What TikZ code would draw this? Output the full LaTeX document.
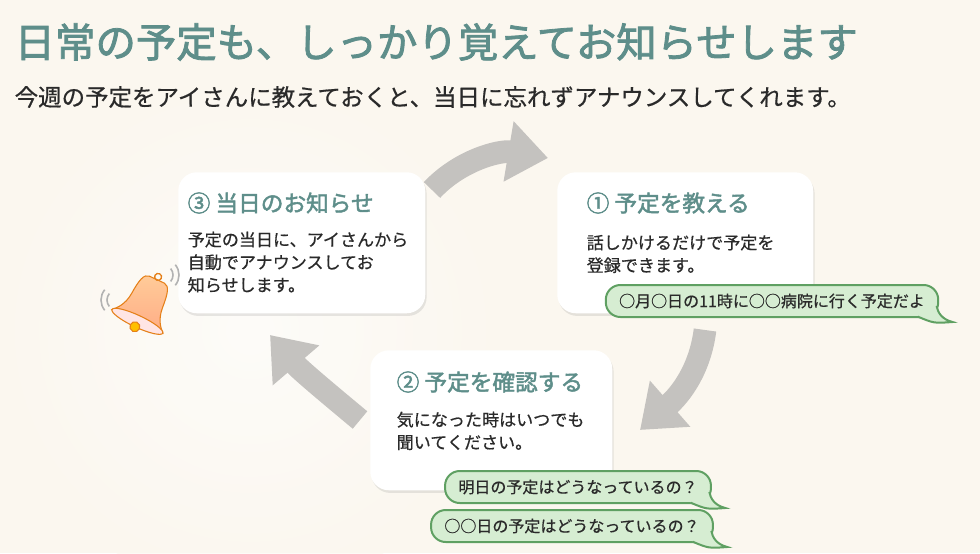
\documentclass[tikz,border=0pt]{standalone}
\usepackage{fontspec}
\setmainfont{Noto Sans CJK JP}
\newfontfamily\jpb{Noto Sans CJK JP}[FakeBold=2]
\newfontfamily\jpm{Noto Sans CJK JP}[FakeBold=0.6]
\usetikzlibrary{arrows.meta,shadows}
\definecolor{teal}{HTML}{5E8E8A}
\definecolor{bubfill}{HTML}{D6EDD2}
\definecolor{bubdraw}{HTML}{5FA062}
\definecolor{arr}{HTML}{C4C2BF}
\definecolor{bg}{HTML}{FBF7EF}
\definecolor{txt}{HTML}{2A2A2A}
\tikzset{
  card/.style={draw=none,fill=white,rounded corners=14pt,drop shadow={shadow xshift=1pt,shadow yshift=-2pt,opacity=.18}},
  head/.style={anchor=west,text=teal,font=\jpb\fontsize{17}{20}\selectfont},
  body/.style={anchor=north west,align=left,text=txt,font=\jpm\fontsize{12.8}{17}\selectfont},
  bub/.style={draw=bubdraw,line width=1.5pt,fill=bubfill,rounded corners=11pt,inner xsep=10pt,minimum height=24pt,text=txt,font=\jpm\fontsize{12}{14}\selectfont},
  bigarrow/.style={draw=arr,line width=17pt,-{Triangle[length=30pt,width=44pt]}},
}
\begin{document}
\begin{tikzpicture}[x=0.75pt,y=-0.75pt]
\useasboundingbox (0,0) rectangle (980,553);
\fill[bg] (0,0) rectangle (980,553);
\shade[inner color=white,outer color=bg,opacity=.6] (250,330) circle (260);
% title
\node[anchor=west,text=teal,font=\jpb\fontsize{30.3}{34}\selectfont] (title) at (10,42) {日常の予定も、しっかり覚えてお知らせします};
\node[anchor=west,text=txt,font=\jpm\fontsize{17.6}{20}\selectfont] (sub) at (10,97) {今週の予定をアイさんに教えておくと、当日に忘れずアナウンスしてくれます。};
% arrows
\coordinate (a1s) at (432,190);
\coordinate (a1e) at (548,158);
\draw[bigarrow] (a1s) .. controls (460,160) and (500,150) .. (a1e);
\coordinate (a2s) at (705,330);
\coordinate (a2e) at (640,430);
\draw[bigarrow] (a2s) .. controls (700,370) and (680,395) .. (a2e);
\coordinate (a3s) at (360,420);
\coordinate (a3e) at (270,335);
\draw[bigarrow] (a3s) .. controls (330,395) and (300,370) .. (a3e);
% cards
\node[card,minimum width=256*0.75pt,minimum height=141*0.75pt,anchor=north west] (c1) at (557,172) {};
\node[card,minimum width=247*0.75pt,minimum height=141*0.75pt,anchor=north west] (c3) at (178,172) {};
\node[card,minimum width=242*0.75pt,minimum height=140*0.75pt,anchor=north west] (c2) at (370,350) {};
\node[head] (h1) at (582,203) {① 予定を教える};
\node[body] (b1) at (582,230) {話しかけるだけで予定を\\登録できます。};
\node[head] (h3) at (183,203) {③ 当日のお知らせ};
\node[body] (b3) at (183,227) {予定の当日に、アイさんから\\自動でアナウンスしてお\\知らせします。};
\node[head] (h2) at (392,382) {② 予定を確認する};
\node[body] (b2) at (392,407) {気になった時はいつでも\\聞いてください。};
% bubbles
\node[bub] (s1) at (772,301) {○月○日の11時に○○病院に行く予定だよ};
\node[bub] (s2) at (578,487) {明日の予定はどうなっているの？};
\node[bub] (s3) at (572,526) {○○日の予定はどうなっているの？};
\foreach \s in {s1,s2,s3}{
  \draw[bubdraw,line width=1.5pt,fill=bubfill] ([xshift=-16pt,yshift=1pt]\s.south east) .. controls ([xshift=-4pt,yshift=-4pt]\s.south east) .. ([xshift=10pt,yshift=-3pt]\s.south east)
    .. controls ([xshift=2pt,yshift=-1pt]\s.south east) and ([xshift=-1pt,yshift=4pt]\s.south east) .. ([xshift=-2pt,yshift=9pt]\s.south east);
  \fill[bubfill] ([xshift=-15pt,yshift=2.2pt]\s.south east) rectangle ([xshift=-3pt,yshift=9pt]\s.south east);
}
% bell
\begin{scope}[shift={(145,305)},rotate=-25]
\shade[top color=white!60!orange,bottom color=pink!70!orange,draw=orange!60!brown,line width=0.8pt]
  (-8,-28) .. controls (-14,-28) and (-16,-20) .. (-17,-5) .. controls (-18,8) and (-24,14) .. (-28,18)
  -- (28,18) .. controls (24,14) and (18,8) .. (17,-5) .. controls (16,-20) and (14,-28) .. (8,-28) -- cycle;
\draw[orange!60!brown,fill=pink!40,line width=0.8pt] (0,18) ellipse (28 and 6);
\draw[orange!60!brown,fill=orange!50!yellow,line width=0.8pt] (0,24) circle (5);
\draw[orange!60!brown,line width=1pt] (0,-31) circle (3.5);
\end{scope}
\foreach \r in {10,16}{
  \draw[gray!60,line width=1.2pt] (163,275) ++(-40:\r) arc (-40:40:\r);
  \draw[gray!60,line width=1.2pt] (117,300) ++(140:\r) arc (140:220:\r);
}
\end{tikzpicture}
\end{document}
